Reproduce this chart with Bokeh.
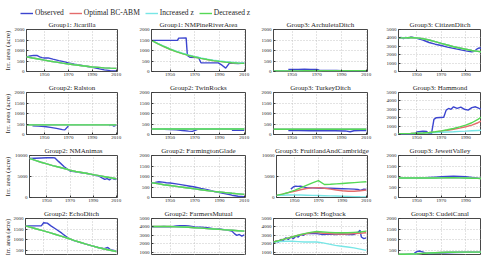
from bokeh.plotting import figure
from bokeh.layouts import column, row
from bokeh.models import Range1d, FixedTicker, Legend, LegendItem
from bokeh.embed import file_html
from bokeh.resources import INLINE

NaN = float("nan")

# ---- shared axes -----------------------------------------------------------
SIM_YEARS = [1935, 1940, 1945, 1950, 1955, 1960, 1965, 1970,
             1975, 1980, 1985, 1990, 1995, 2000, 2005, 2010]
X_TICKS = [1950, 1970, 1990, 2010]
TICKS_2K = [0, 500, 1000, 1500, 2000]
TICKS_5K = [0, 1000, 2000, 3000, 4000, 5000]
TICKS_10K = [0, 5000, 10000]
SERIES = ["Observed", "Optimal BC-ABM", "Increased z", "Decreased z"]

# ---- Group1: Jicarilla -----------------------------------------------------
jic_obs_yr = [1935, 1938, 1941, 1944, 1946, 1948, 1950, 1953, 1957, 1962, 1966, 1970,
              1975, 1980, 1985, 1990, 1995, 2000, 2005, 2010]
jic_obs = [690, 740, 770, 760, 700, 660, 640, 650, 590, 520, 470, 410,
           350, 300, 250, 200, 140, 80, 40, 30]
jic_dec = [700, 645, 595, 540, 490, 445, 400, 360, 320, 285, 250, 215, 195, 175, 160, 150]
jic_opt = list(jic_dec)
jic_inc = list(jic_dec)

# ---- Group1: NMPineRiverArea -----------------------------------------------
npr_obs_yr = [1935, 1945, 1956, 1957, 1963, 1964, 1966, 1973, 1975, 1989, 1992,
              1995, 1998, 2001, 2005, 2010]
npr_obs = [1480, 1480, 1480, 1590, 1600, 760, 680, 670, 420, 410, 300,
           160, 400, 390, 380, 400]
npr_dec = [1480, 1330, 1190, 1060, 950, 850, 765, 690, 625, 570, 520, 480, 445, 420, 400, 385]
npr_opt = list(npr_dec)
npr_inc = [1480, 1340, 1205, 1080, 970, 870, 785, 710, 645, 590, 540, 500, 465, 440, 420, 405]

# ---- Group3: ArchuletaDitch ------------------------------------------------
arc_obs_yr = [1947, 1950, 1955, 1960, 1965, 1970, 1972, 1980, 1986, 1990, 2000, 2010]
arc_obs = [100, 100, 100, 110, 100, 100, 60, 50, 50, 40, 30, 30]
arc_dec = [30, 30, 30, 30, 30, 35, 35, 35, 40, 40, 40, 40, 40, 40, 40, 40]
arc_opt = list(arc_dec)
arc_inc = list(arc_dec)

# ---- Group3: CitizenDitch --------------------------------------------------
cit_obs_yr = [1935, 1937, 1939, 1941, 1943, 1945, 1947, 1950, 1955, 1960, 1965, 1970,
              1975, 1980, 1985, 1990, 1995, 1997, 1999, 2001, 2003, 2006, 2010]
cit_obs = [3950, 4050, 3900, 4050, 3950, 4100, 4050, 3950, 3750, 3450, 3250, 3100,
           2900, 2750, 2600, 2450, 2350, 2400, 2650, 2800, 2750, 2800, 2750]
cit_dec = [4000, 4000, 4050, 4000, 3900, 3750, 3550, 3350, 3150, 2950, 2800, 2650,
           2500, 2400, 2300, 2250]
cit_opt = list(cit_dec)
cit_inc = list(cit_dec)

# ---- Group2: Ralston -------------------------------------------------------
ral_obs_yr = [1940, 1945, 1950, 1955, 1960, 1965, 1967, 1970, 1971, 2004, 2006, 2008, 2010]
ral_obs = [420, 400, 380, 340, 290, 230, 220, 400, NaN, 420, 470, 400, 450]
ral_dec = [460] * 16
ral_opt = list(ral_dec)
ral_inc = list(ral_dec)

# ---- Group2: TwinRocks -----------------------------------------------------
twr_obs_yr = [1945, 1950, 1955, 1960, 1965, 1968, 1972, 1973, 2000, 2005, 2010]
twr_obs = [250, 240, 220, 190, 160, 150, 230, NaN, 200, 210, 200]
twr_dec = [260] * 16
twr_opt = list(twr_dec)
twr_inc = list(twr_dec)

# ---- Group3: TurkeyDitch ---------------------------------------------------
tur_obs_yr = [1947, 1955, 1965, 1975, 1985, 1993, 1997, 2000, 2005, 2010]
tur_obs = [190, 190, 180, 180, 180, 170, 130, 180, 190, 190]
tur_dec = [250] * 16
tur_opt = list(tur_dec)
tur_inc = list(tur_dec)

# ---- Group3: Hammond -------------------------------------------------------
ham_obs_yr = [1935, 1948, 1950, 1955, 1958, 1960, 1962, 1964, 1966, 1972, 1974, 1976,
              1978, 1980, 1983, 1986, 1989, 1992, 1995, 1998, 2001, 2004, 2010]
ham_obs = [30, 30, 300, 400, 350, 100, 100, 1800, 2000, 2050, 2900, 3100,
           3000, 3300, 3100, 3250, 3000, 2900, 3200, 3300, 3100, 3000, 3200]
ham_dec = [100, 100, 120, 150, 180, 230, 320, 430, 560, 720, 900, 1120, 1400, 1800, 2300, 2800]
ham_opt = [100, 100, 120, 150, 180, 220, 300, 400, 500, 620, 760, 920, 1120, 1400, 1750, 2100]
ham_inc = [100, 100, 110, 140, 160, 190, 230, 270, 300, 330, 370, 400, 440, 480, 520, 560]

# ---- Group2: NMAnimas ------------------------------------------------------
nma_obs_yr = [1935, 1940, 1945, 1950, 1955, 1957, 1960, 1965, 1970, 1975, 1980, 1985,
              1990, 1995, 1998, 2000, 2002, 2004, 2006, 2008, 2010]
nma_obs = [9300, 9350, 9400, 9450, 9500, 9400, 8600, 7300, 6300, 6100, 5900, 5700,
           5400, 5100, 4600, 4300, 4500, 4200, 4600, 4400, 4300]
nma_dec = [9300, 8850, 8400, 8000, 7600, 7250, 6900, 6500, 6200, 5950, 5700, 5450,
           5200, 4950, 4700, 4450]
nma_opt = list(nma_dec)
nma_inc = list(nma_dec)

# ---- Group2: FarmingtonGlade -----------------------------------------------
fgl_obs_yr = [1935, 1938, 1941, 1944, 1947, 1950, 1955, 1960, 1965, 1970, 1975, 1980,
              1985, 1990, 1995, 2000, 2005, 2010]
fgl_obs = [700, 720, 750, 730, 700, 690, 650, 600, 550, 500, 430, 370,
           300, 240, 180, 110, 60, 40]
fgl_dec = [700, 660, 610, 570, 530, 490, 450, 410, 370, 330, 290, 260, 230, 200, 175, 150]
fgl_opt = list(fgl_dec)
fgl_inc = list(fgl_dec)

# ---- Group3: FruitlandAndCambridge -----------------------------------------
frc_obs_yr = [1947, 1949, 1951, 1953, 1955, 1957, 1959, 1961, 1965, 1970, 1975, 1980,
              1985, 1990, 1995, 2000, 2003, 2005, 2008, 2010]
frc_obs = [2000, 2500, 2700, 2650, 2700, 2600, 2400, 2300, 2300, 2250, 2200, 2200,
           2150, 2100, 2050, 2000, 1900, 1700, 2000, 1900]
frc_dec = [500, 800, 1200, 1700, 2300, 2900, 3500, 4000, 3100, 3150, 3250, 3350,
           3450, 3550, 3650, 3750]
frc_opt = [500, 800, 1150, 1500, 1850, 2150, 2300, 2350, 2200, 2000, 1800, 1600,
           1500, 1500, 1600, 1800]
frc_inc = [500, 550, 600, 600, 580, 540, 500, 460, 420, 380, 340, 300, 260, 220, 180, 150]

# ---- Group3: JewettValley --------------------------------------------------
jew_obs_yr = [1950, 1955, 1960, 1965, 1970, 1975, 1980, 1985, 1990, 1995, 2000, 2005, 2010]
jew_obs = [920, 930, 950, 970, 990, 1000, 1010, 1000, 990, 960, 920, 900, 890]
jew_dec = [930, 930, 930, 930, 930, 930, 930, 935, 940, 940, 935, 930, 920, 910, 900, 890]
jew_opt = list(jew_dec)
jew_inc = list(jew_dec)

# ---- Group2: EchoDitch -----------------------------------------------------
ech_obs_yr = [1935, 1940, 1945, 1948, 1950, 1953, 1956, 1960, 1965, 1970, 1975, 1980,
              1985, 1990, 1995, 2000, 2003, 2005, 2008, 2010]
ech_obs = [1650, 1650, 1650, 1650, 1800, 1780, 1650, 1500, 1300, 1080, 950, 860,
           780, 700, 620, 560, 620, 520, 480, 430]
ech_dec = [1650, 1570, 1490, 1410, 1330, 1240, 1150, 1060, 960, 870, 780, 700,
           620, 550, 490, 430]
ech_opt = list(ech_dec)
ech_inc = list(ech_dec)

# ---- Group2: FarmersMutual -------------------------------------------------
fmu_obs_yr = [1935, 1940, 1945, 1950, 1955, 1958, 1962, 1965, 1970, 1975, 1980,
              1985, 1990, 1995, 2000, 2002, 2004, 2006, 2008, 2010]
fmu_obs = [4000, 4000, 4050, 4000, 4100, 4150, 4150, 4100, 4000, 3950, 3900,
           3800, 3750, 3650, 3500, 3200, 3000, 3100, 2900, 3050]
fmu_dec = [4050, 4050, 4050, 4050, 4000, 3980, 3950, 3900, 3850, 3800, 3750, 3700,
           3650, 3600, 3550, 3500]
fmu_opt = list(fmu_dec)
fmu_inc = list(fmu_dec)

# ---- Group3: Hogback -------------------------------------------------------
hog_obs_yr = [1935, 1937, 1939, 1941, 1943, 1945, 1947, 1949, 1951, 1953, 1955, 1957,
              1959, 1961, 1963, 1965, 1970, 1975, 1980, 1985, 1990, 1995, 2000, 2003,
              2005, 2006, 2008, 2010]
hog_obs = [2100, 2300, 2200, 2500, 2400, 2700, 2500, 2800, 2600, 2900, 2800, 3100,
           3000, 3200, 3200, 3250, 3200, 3100, 3150, 3100, 3150, 3100, 3100, 3300,
           3600, 2800, 2600, 2700]
hog_dec = [2200, 2400, 2600, 2800, 3000, 3200, 3350, 3450, 3400, 3350, 3300, 3300,
           3300, 3350, 3400, 3500]
hog_opt = [2200, 2400, 2600, 2800, 3000, 3150, 3300, 3350, 3250, 3200, 3150, 3150,
           3150, 3200, 3250, 3300]
hog_inc = [2200, 2250, 2300, 2300, 2250, 2200, 2200, 2200, 2100, 1950, 1800, 1700,
           1600, 1500, 1350, 1200]

# ---- Group3: CudeiCanal ----------------------------------------------------
cud_obs_yr = [1948, 1950, 1952, 1954, 1956, 1958, 1960, 1965, 1970, 1980, 1990, 2000, 2010]
cud_obs = [350, 420, 450, 420, 380, 350, 330, 340, 360, 380, 390, 400, 400]
cud_dec = [300, 300, 310, 320, 340, 360, 370, 380, 390, 390, 400, 400, 400, 400, 400, 400]
cud_opt = list(cud_dec)
cud_inc = list(cud_dec)

PANELS = [
    [("Group1: Jicarilla", 2000, TICKS_2K, jic_obs_yr, jic_obs, jic_opt, jic_inc, jic_dec),
     ("Group1: NMPineRiverArea", 2000, TICKS_2K, npr_obs_yr, npr_obs, npr_opt, npr_inc, npr_dec),
     ("Group3: ArchuletaDitch", 2000, TICKS_2K, arc_obs_yr, arc_obs, arc_opt, arc_inc, arc_dec),
     ("Group3: CitizenDitch", 5000, TICKS_5K, cit_obs_yr, cit_obs, cit_opt, cit_inc, cit_dec)],
    [("Group2: Ralston", 2000, TICKS_2K, ral_obs_yr, ral_obs, ral_opt, ral_inc, ral_dec),
     ("Group2: TwinRocks", 2000, TICKS_2K, twr_obs_yr, twr_obs, twr_opt, twr_inc, twr_dec),
     ("Group3: TurkeyDitch", 2000, TICKS_2K, tur_obs_yr, tur_obs, tur_opt, tur_inc, tur_dec),
     ("Group3: Hammond", 5000, TICKS_5K, ham_obs_yr, ham_obs, ham_opt, ham_inc, ham_dec)],
    [("Group2: NMAnimas", 10000, TICKS_10K, nma_obs_yr, nma_obs, nma_opt, nma_inc, nma_dec),
     ("Group2: FarmingtonGlade", 2000, TICKS_2K, fgl_obs_yr, fgl_obs, fgl_opt, fgl_inc, fgl_dec),
     ("Group3: FruitlandAndCambridge", 10000, TICKS_10K, frc_obs_yr, frc_obs, frc_opt, frc_inc, frc_dec),
     ("Group3: JewettValley", 2000, TICKS_2K, jew_obs_yr, jew_obs, jew_opt, jew_inc, jew_dec)],
    [("Group2: EchoDitch", 2000, TICKS_2K, ech_obs_yr, ech_obs, ech_opt, ech_inc, ech_dec),
     ("Group2: FarmersMutual", 5000, TICKS_5K, fmu_obs_yr, fmu_obs, fmu_opt, fmu_inc, fmu_dec),
     ("Group3: Hogback", 5000, TICKS_5K, hog_obs_yr, hog_obs, hog_opt, hog_inc, hog_dec),
     ("Group3: CudeiCanal", 2000, TICKS_2K, cud_obs_yr, cud_obs, cud_opt, cud_inc, cud_dec)],
]

# ---- styling ---------------------------------------------------------------
COLORS = ["#3c45cf", "#e46c6c", "#78e6e6", "#55d855"]
LINE_W = 1.4
FONT = "Liberation Serif"
INK = "#262626"
X0, X1 = 1935, 2011
FULL_FRAME_W, FULL_FRAME_H = 94, 42
# (min_border_left, frame width, min_border_right) per column
COLS = [(23, 94, 17), (17, 94, 13), (15, 94, 16), (14, 84, 0)]
TOP, BOTTOM, ROW_H = 12, 9, 63
LAST_ROW_H = 49


def make_panel(spec, ci, ri):
    title, ymax, yticks, obs_yr, obs, opt, inc, dec = spec
    left, fw, right = COLS[ci]
    last = ri == len(PANELS) - 1
    h = LAST_ROW_H if last else ROW_H
    bottom = 0 if last else BOTTOM
    fh = h - TOP - bottom
    # the bottom row and the right column are shown only partly
    y0 = ymax * (1 - fh / FULL_FRAME_H)
    x1 = X0 + (X1 - X0) * fw / FULL_FRAME_W
    p = figure(width=left + fw + right, height=h,
               x_range=Range1d(X0, x1), y_range=Range1d(y0, ymax),
               toolbar_location=None, output_backend="svg",
               min_border_left=left, min_border_right=right,
               min_border_top=TOP, min_border_bottom=bottom,
               title=title)
    p.title.text_font = FONT
    p.title.text_font_size = "7px"
    p.title.text_font_style = "normal"
    p.title.text_color = INK
    p.title.align = "center"
    p.title.standoff = 2
    p.outline_line_color = "#333333"
    p.outline_line_width = 0.9
    p.background_fill_color = "white"
    p.border_fill_color = "white"

    xt = FixedTicker(ticks=X_TICKS)
    yt = FixedTicker(ticks=yticks)
    p.xaxis.ticker = xt
    p.yaxis.ticker = yt
    p.xgrid.ticker = xt
    p.ygrid.ticker = yt
    for g in (p.xgrid, p.ygrid):
        g.grid_line_color = "#b8b8b8"
        g.grid_line_dash = "1 2"
        g.grid_line_width = 0.8
    for ax in (p.xaxis[0], p.yaxis[0]):
        ax.axis_line_color = None
        ax.major_tick_in = 2
        ax.major_tick_out = 0
        ax.major_tick_line_color = "#333333"
        ax.minor_tick_line_color = None
        ax.major_label_text_font = FONT
        ax.major_label_text_font_size = "5px"
        ax.major_label_text_color = INK
    p.xaxis.major_label_standoff = 1
    p.yaxis.major_label_standoff = 2
    if last:
        p.xaxis.visible = False
    if ci == 0:
        p.yaxis.axis_label = "Irr. area (acre)"
        p.yaxis.axis_label_text_font = FONT
        p.yaxis.axis_label_text_font_size = "6.4px" if last else "7px"
        p.yaxis.axis_label_text_font_style = "normal"
        p.yaxis.axis_label_text_color = INK
        p.yaxis.axis_label_standoff = 0

    p.line(obs_yr, obs, line_color=COLORS[0], line_width=LINE_W)
    p.line(SIM_YEARS, opt, line_color=COLORS[1], line_width=LINE_W)
    p.line(SIM_YEARS, inc, line_color=COLORS[2], line_width=LINE_W)
    p.line(SIM_YEARS, dec, line_color=COLORS[3], line_width=LINE_W)
    return p


# ---- legend strip ----------------------------------------------------------
# The strip's ranges sit away from the data, so only the legend entries show.
leg = figure(width=481, height=17, x_range=Range1d(0, 1), y_range=Range1d(0, 1),
             toolbar_location=None, output_backend="svg", min_border=0)
leg.xaxis.visible = False
leg.yaxis.visible = False
leg.grid.visible = False
leg.outline_line_color = None
key_series = [(jic_obs_yr, jic_obs), (SIM_YEARS, jic_opt), (SIM_YEARS, jic_inc), (SIM_YEARS, jic_dec)]
items = []
for name, c, (xs, ys) in zip(SERIES, COLORS, key_series):
    r = leg.line(xs, ys, line_color=c, line_width=LINE_W)
    items.append(LegendItem(label=name, renderers=[r]))
legend = Legend(items=items, orientation="horizontal", location=(20, 0),
                glyph_width=13, glyph_height=8, label_standoff=2, spacing=5,
                padding=0, margin=0, border_line_color=None,
                background_fill_alpha=0, label_text_font=FONT,
                label_text_font_size="7.5px", label_text_color=INK,
                label_height=8)
leg.add_layout(legend)

rows = [leg]
for ri, specs in enumerate(PANELS):
    rows.append(row([make_panel(s, ci, ri) for ci, s in enumerate(specs)], spacing=0))

page = column(rows, spacing=0)
open("out.html", "w").write(file_html(page, INLINE))
